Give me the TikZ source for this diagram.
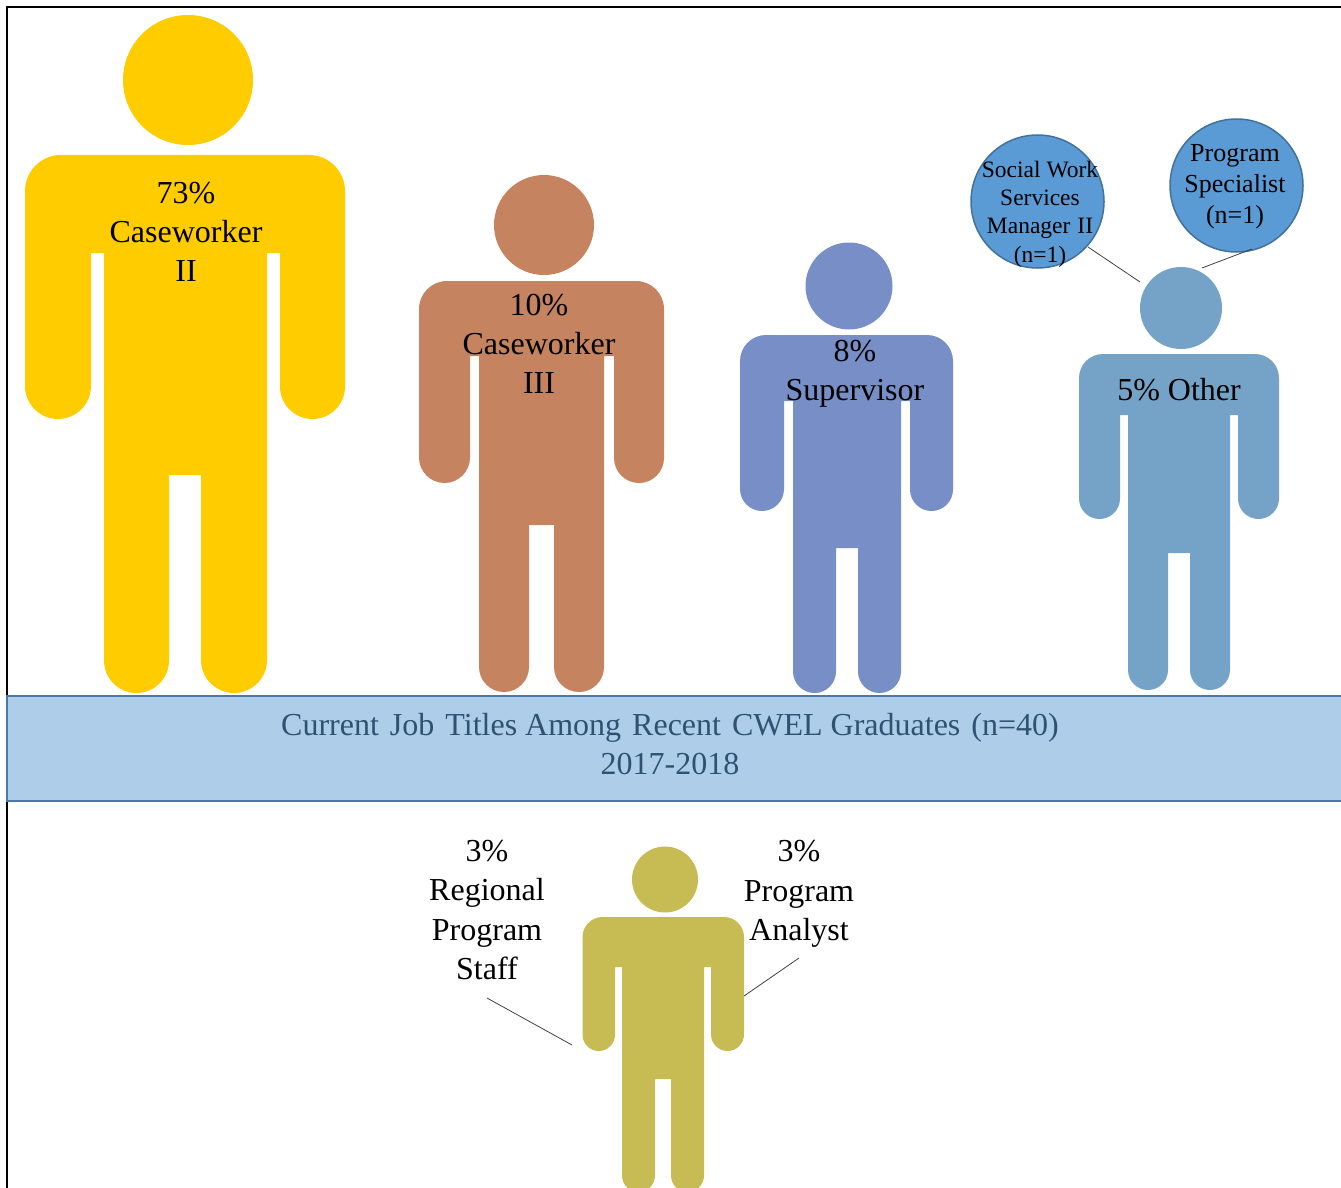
\documentclass[tikz,border=0pt]{standalone}
\usepackage{fontspec}
\setmainfont{Liberation Serif}
\definecolor{cyellow}{HTML}{FFCC00}
\definecolor{cbrown}{HTML}{C6835F}
\definecolor{cblue}{HTML}{788EC7}
\definecolor{csteel}{HTML}{75A3C7}
\definecolor{colive}{HTML}{C7BC54}
\definecolor{cband}{HTML}{AECDE9}
\definecolor{cedge}{HTML}{4A78A8}
\definecolor{cbandtext}{HTML}{2F5273}
\definecolor{cbubble}{HTML}{5B9BD5}
\definecolor{cbubbleedge}{HTML}{41719C}
\newcommand\personpos[9]{\def\pL{#1}\def\pR{#2}\def\pT{#3}\def\pr{#4}\def\pAi{#5}\def\pTl{#6}\def\pTr{#7}\def\pAj{#8}\def\pPit{#9}}
\newcommand\personlow[6]{%
  \pgfmathsetmacro\rA{(\pAi-\pL)/2}\pgfmathsetmacro\rB{(\pR-\pAj)/2}%
  \pgfmathsetmacro\rC{(#5-\pTr)*-0.5}\pgfmathsetmacro\rD{(#4-\pTl)/2}%
  \fill[#1] (\pAi,\pPit) [rounded corners=\rA pt] -- (\pAi,#2) -- (\pL,#2)
    [rounded corners=\pr pt] -- (\pL,\pT) -- (\pR,\pT)
    [rounded corners=\rB pt] -- (\pR,#2) -- (\pAj,#2)
    [sharp corners] -- (\pAj,\pPit) -- (\pTr,\pPit)
    [rounded corners=\rC pt] -- (\pTr,#6) -- (#5,#6)
    [sharp corners] -- (#5,#3) -- (#4,#3)
    [rounded corners=\rD pt] -- (#4,#6) -- (\pTl,#6)
    [sharp corners] -- (\pTl,\pPit) -- cycle;}
\newcommand\wsp{\hskip 11pt\relax}
\tikzset{
  x=1pt,y=-1pt,
  head/.style={circle,inner sep=0pt,minimum size=#1},
  big/.style={font=\fontsize{32}{39.3}\selectfont,align=center,text=black,inner sep=0pt},
  bubble/.style={circle,draw=cbubbleedge,line width=1.5pt,fill=cbubble,minimum size=133pt,inner sep=0pt},
  bubtext/.style={align=center,inner sep=0pt,text=black},
  leader/.style={draw=black!75,line width=0.8pt},
  frameline/.style={draw=black,line width=2pt},
  bandbox/.style={draw=cedge,line width=2pt,fill=cband},
}
\begin{document}
\begin{tikzpicture}
\useasboundingbox (0,0) rectangle (1341,1188);
\clip (0,0) rectangle (1341,1188);
\draw[frameline] (7,1188) -- (7,7) -- (1341,7);

% Yellow
\node[head=130pt,fill=cyellow] (h1) at (188,80) {};
\personpos{25}{345}{155}{36}{91}{104}{267}{280}{253}
\personlow{cyellow}{419}{475}{169}{201}{693}
% Brown
\node[head=100pt,fill=cbrown] (h2) at (544,225) {};
\personpos{419}{664}{281}{28}{470}{479}{604}{614}{356}
\personlow{cbrown}{483}{525}{529}{554}{692}
% Blue
\node[head=87pt,fill=cblue] (h3) at (849,286) {};
\personpos{740}{953}{335}{26}{784}{793}{901}{910}{401}
\personlow{cblue}{511}{548}{836}{858}{693}
% Steel
\node[head=82pt,fill=csteel] (h4) at (1181,308) {};
\personpos{1079}{1279}{354}{24}{1120}{1128}{1230}{1238}{415}
\personlow{csteel}{519}{553}{1168}{1190}{690}
% Olive
\node[head=66pt,fill=colive] (h5) at (665,879.5) {};
\personpos{582.5}{744}{917}{20}{615}{622}{704}{711}{967}
\personlow{colive}{1051}{1079}{655}{671}{1192}

% Band
\path[bandbox] (7,696) rectangle (1345,801);
\node[big,text=cbandtext] (bandlabel) at (670,744) {Current\wsp Job\wsp Titles Among\wsp Recent\wsp CWEL Graduates\wsp (n=40)\\2017-2018};

% Bubbles
\node[bubble] (sw) at (1037.5,201.5) {};
\node[bubble] (ps) at (1236.5,185.5) {};
\node[bubtext,font=\fontsize{23.5}{28.3}\selectfont] (swt) at (1040,214) {Social Work\\Services\\Manager\hskip 7pt II\\(n=1)};
\node[bubtext,font=\fontsize{26}{31}\selectfont] (pst) at (1235,187) {Program\\Specialist\\(n=1)};

% Figure labels
\node[big] (t1) at (186,232) {73\%\\Caseworker\\II};
\node[big] (t2) at (539,344) {10\%\\Caseworker\\III};
\node[big] (t3) at (855,374) {8\%\\Supervisor};
\node[big] (t4) at (1179,390) {5\% Other};
\node[big] (t5) at (487,910) {3\%\\Regional\\Program\\Staff};
\node[big] (t6) at (799,894) {3\%\\Program\\Analyst};

% Leaders
\coordinate (a1) at (1088,247); \coordinate (a2) at (1140,282);
\coordinate (b1) at (1252,249); \coordinate (b2) at (1202,268);
\coordinate (c1) at (487,998);  \coordinate (c2) at (572,1045);
\coordinate (d1) at (799,958);  \coordinate (d2) at (744,996);
\draw[leader] (a1) -- (a2);
\draw[leader] (b1) -- (b2);
\draw[leader] (c1) -- (c2);
\draw[leader] (d1) -- (d2);
\end{tikzpicture}
\end{document}
